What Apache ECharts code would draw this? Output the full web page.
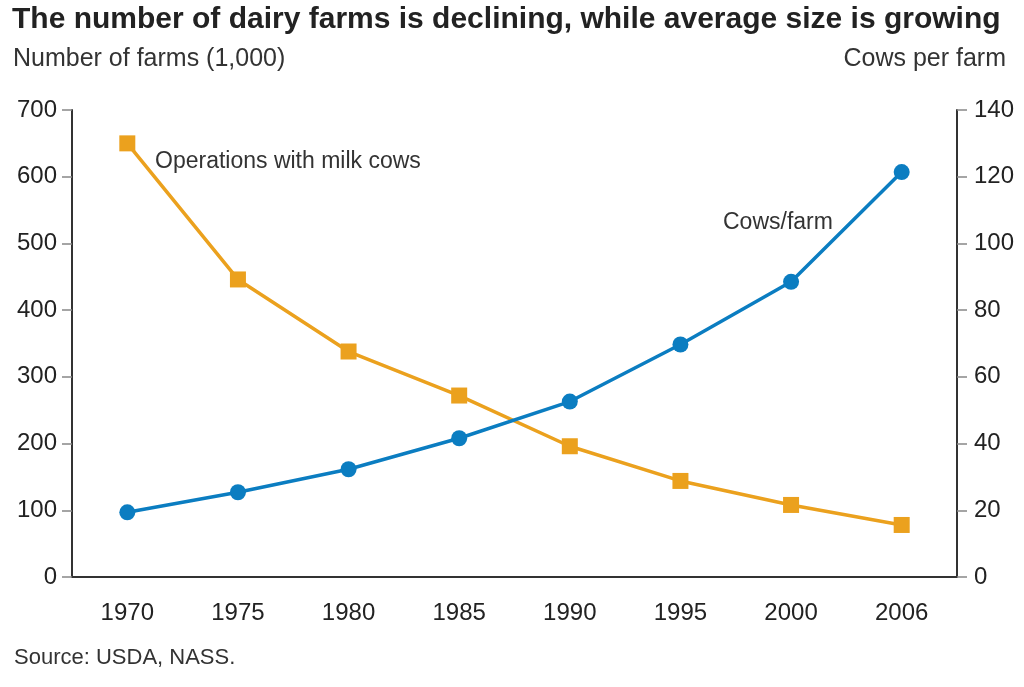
<!DOCTYPE html>
<html>
<head>
<meta charset="utf-8">
<script src="https://cdn.jsdelivr.net/npm/echarts@6/dist/echarts.min.js"></script>
<style>
html,body{margin:0;padding:0;background:#fff;}
#chart{width:1024px;height:687px;}
</style>
</head>
<body>
<div id="chart"></div>
<script>
const years = ['1970','1975','1980','1985','1990','1995','2000','2006'];
const farms = [650, 446, 338, 272, 196, 144, 108, 78];
const cowsPerFarm = [19.4, 25.4, 32.3, 41.6, 52.6, 69.7, 88.5, 121.4];
const leftTicks = {min: 0, max: 700, interval: 100};
const rightTicks = {min: 0, max: 140, interval: 20};

const orange = '#EBA11E';
const blue = '#0B7DC1';
const font = 'Liberation Sans, Arial, sans-serif';

const chart = echarts.init(document.getElementById('chart'));
chart.setOption({
  backgroundColor: '#fff',
  animation: false,
  grid: {left: 72, right: 67, top: 110, bottom: 110},
  xAxis: {
    type: 'category',
    data: years,
    boundaryGap: true,
    axisLine: {lineStyle: {color: '#333', width: 2}},
    axisTick: {alignWithLabel: true, length: 10, lineStyle: {color: '#888', width: 1.5}},
    axisLabel: {color: '#222', fontSize: 24, fontFamily: font, margin: 24}
  },
  yAxis: [
    {
      type: 'value', position: 'left',
      min: leftTicks.min, max: leftTicks.max, interval: leftTicks.interval,
      splitLine: {show: false},
      axisLine: {show: true, lineStyle: {color: '#333', width: 2}},
      axisTick: {show: true, length: 10, lineStyle: {color: '#888', width: 1.5}},
      axisLabel: {color: '#222', fontSize: 24, fontFamily: font, margin: 15}
    },
    {
      type: 'value', position: 'right',
      min: rightTicks.min, max: rightTicks.max, interval: rightTicks.interval,
      splitLine: {show: false},
      axisLine: {show: true, lineStyle: {color: '#333', width: 2}},
      axisTick: {show: true, length: 10, lineStyle: {color: '#888', width: 1.5}},
      axisLabel: {color: '#222', fontSize: 24, fontFamily: font, margin: 17}
    }
  ],
  series: [
    {
      name: 'Operations with milk cows',
      type: 'line',
      yAxisIndex: 0,
      data: farms,
      symbol: 'rect',
      symbolSize: 16,
      lineStyle: {color: orange, width: 3.5},
      itemStyle: {color: orange}
    },
    {
      name: 'Cows/farm',
      type: 'line',
      yAxisIndex: 1,
      data: cowsPerFarm,
      symbol: 'circle',
      symbolSize: 16,
      lineStyle: {color: blue, width: 3.5},
      itemStyle: {color: blue}
    }
  ],
  graphic: [
    {type: 'text', left: 12, top: 5, style: {text: 'The number of dairy farms is declining, while average size is growing', font: 'bold 30px ' + font, fill: '#222'}},
    {type: 'text', left: 13, top: 47, style: {text: 'Number of farms (1,000)', font: '25px ' + font, fill: '#333'}},
    {type: 'text', right: 18, top: 47, style: {text: 'Cows per farm', font: '25px ' + font, fill: '#333'}},
    {type: 'text', left: 155, top: 150, style: {text: 'Operations with milk cows', font: '23px ' + font, fill: '#333'}},
    {type: 'text', left: 723, top: 211, style: {text: 'Cows/farm', font: '23px ' + font, fill: '#333'}},
    {type: 'text', left: 14, top: 647, style: {text: 'Source: USDA, NASS.', font: '22px ' + font, fill: '#333'}}
  ]
});
</script>
</body>
</html>
